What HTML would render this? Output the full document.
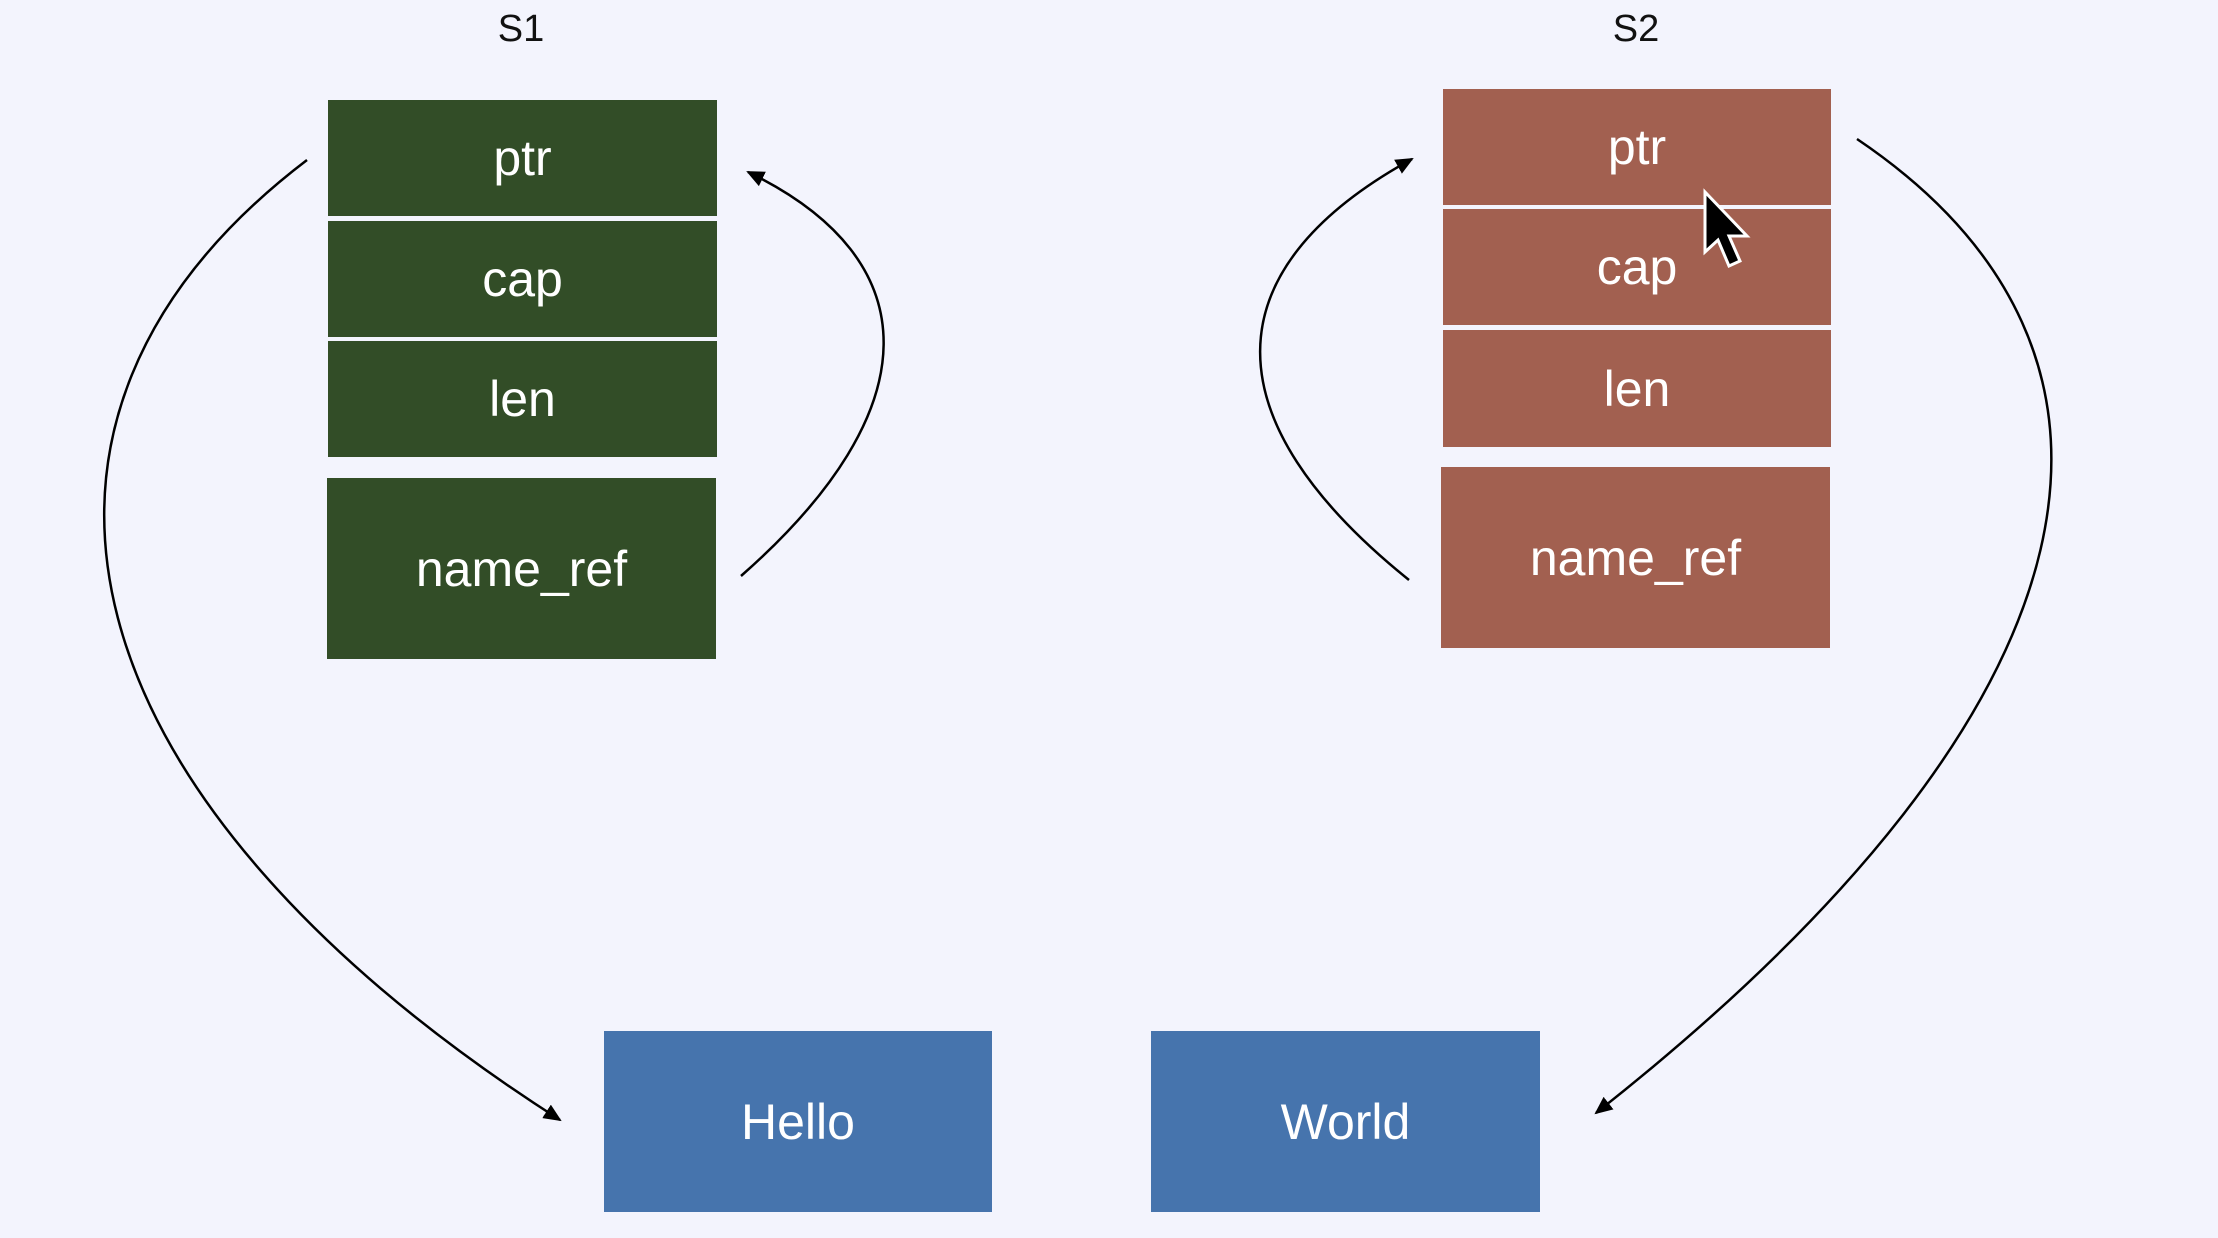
<!DOCTYPE html>
<html><head><meta charset="utf-8"><style>
html,body{margin:0;padding:0;width:2218px;height:1238px;background:#f3f4fd;overflow:hidden;font-family:"Liberation Sans",sans-serif}
.b{position:absolute;display:flex;align-items:center;justify-content:center;color:#fff;font-size:50px}
.g{background:#324d27}.r{background:#a26050}.bl{background:#4674ad}
.l{position:absolute;font-size:38px;color:#111;transform:translateX(-50%)}
</style></head><body>
<div class="l" style="left:521px;top:8px">S1</div>
<div class="l" style="left:1636px;top:8px">S2</div>
<div class="b g" style="left:328px;top:100px;width:389px;height:116px">ptr</div>
<div class="b g" style="left:328px;top:221px;width:389px;height:116px">cap</div>
<div class="b g" style="left:328px;top:341px;width:389px;height:116px">len</div>
<div class="b g" style="left:327px;top:478px;width:389px;height:181px">name_ref</div>
<div class="b r" style="left:1443px;top:89px;width:388px;height:116px">ptr</div>
<div class="b r" style="left:1443px;top:209px;width:388px;height:116px">cap</div>
<div class="b r" style="left:1443px;top:330px;width:388px;height:117px">len</div>
<div class="b r" style="left:1441px;top:467px;width:389px;height:181px">name_ref</div>
<div class="b bl" style="left:604px;top:1031px;width:388px;height:181px">Hello</div>
<div class="b bl" style="left:1151px;top:1031px;width:389px;height:181px">World</div>
<svg width="2218" height="1238" style="position:absolute;left:0;top:0">
<defs>
<marker id="m" markerWidth="18" markerHeight="16" refX="16" refY="8" orient="auto" markerUnits="userSpaceOnUse"><path d="M0,0L18,8L0,16z" fill="#000"/></marker></defs>
<g fill="none" stroke="#000" stroke-width="2.5">
<path d="M307,160 C-35,420 60,800 560,1120" marker-end="url(#m)"/>
<path d="M741,576 C930,410 930,260 748,172" marker-end="url(#m)"/>
<path d="M1409,580 C1210,420 1210,270 1412,159" marker-end="url(#m)"/>
<path d="M1857,139 C2170,350 2120,700 1596,1113" marker-end="url(#m)"/>
</g>
<path d="M1705,192 L1705,252 L1718,240 L1729,266 L1740,261 L1729,236 L1747,236 Z" fill="#000" stroke="#fff" stroke-width="3"/>
</svg>
</body></html>
